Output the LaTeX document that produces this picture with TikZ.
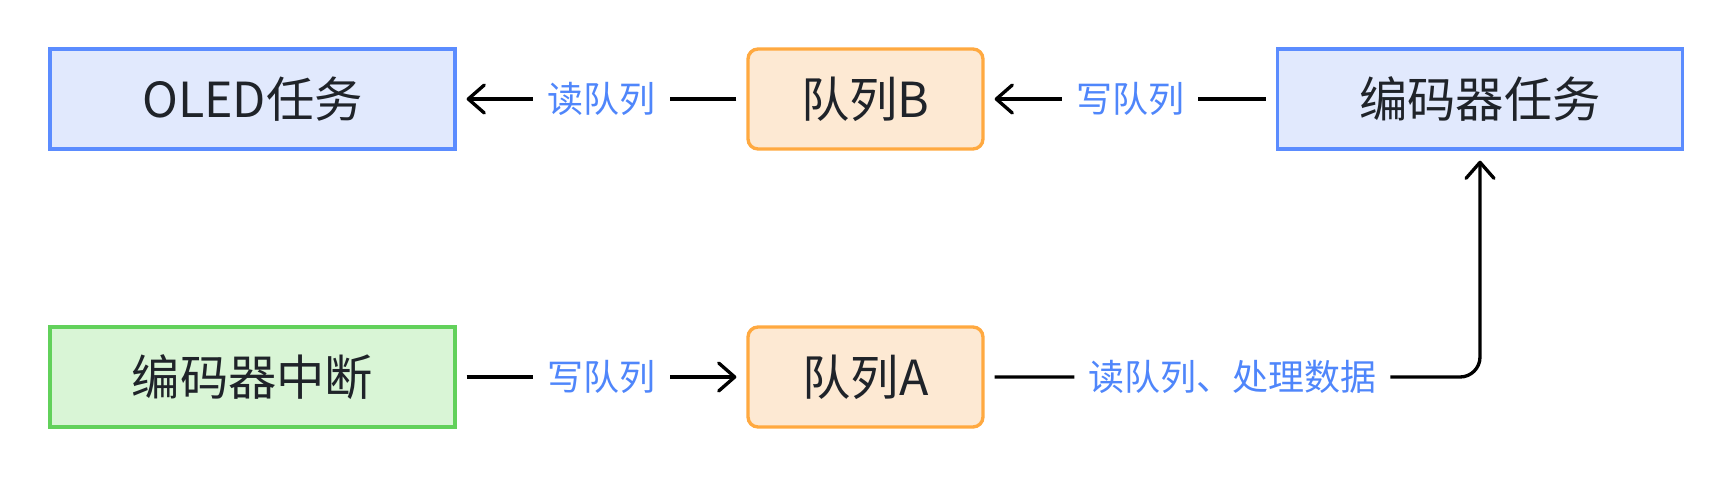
\documentclass[tikz,border=0pt]{standalone}
\usepackage{fontspec}
\setmainfont{Noto Sans CJK SC}
\usetikzlibrary{arrows.meta}

\definecolor{taskfill}{HTML}{E1E9FD}
\definecolor{taskline}{HTML}{5B8CFF}
\definecolor{queuefill}{HTML}{FDE9D3}
\definecolor{queueline}{HTML}{FFA940}
\definecolor{isrfill}{HTML}{D9F5D6}
\definecolor{isrline}{HTML}{62D15B}
\definecolor{textdark}{HTML}{1F2329}
\definecolor{lblblue}{HTML}{4F86FB}

\begin{document}
\begin{tikzpicture}[x=0.02cm,y=-0.02cm,
    box/.style={draw,line width=1.9pt,text=textdark,font=\fontsize{27.5pt}{30pt}\selectfont,
      minimum height=2cm,inner sep=0pt},
    taskbox/.style={box,fill=taskfill,draw=taskline,minimum width=8.1cm},
    isrbox/.style={box,fill=isrfill,draw=isrline,minimum width=8.1cm},
    queuebox/.style={box,fill=queuefill,draw=queueline,minimum width=4.7cm,rounded corners=0.2cm},
    flow/.style={line width=1.9pt,shorten >=0.2cm,shorten <=0.2cm,
      -{Straight Barb[length=0.32cm,width=0.56cm,line cap=round,line join=round]}},
    lbl/.style={fill=white,text=lblblue,font=\fontsize{20.5pt}{22pt}\selectfont,
      inner xsep=0.28cm,inner ysep=0.1cm}]
    \path[use as bounding box,fill=white] (0,0) rectangle (1734,478);
    % top row: tasks and queue B
    \node[taskbox] (oled) at (252.5,99) {OLED任务};
    \node[queuebox] (qb) at (865.5,99) {队列B};
    \node[taskbox] (enctask) at (1480,99) {编码器任务};
    % bottom row: interrupt and queue A
    \node[isrbox] (encisr) at (252.5,377) {编码器中断};
    \node[queuebox] (qa) at (865.5,377) {队列A};
    % data flow
    \draw[flow] (enctask) -- node[lbl]{写队列} (qb);
    \draw[flow] (qb) -- node[lbl]{读队列} (oled);
    \draw[flow] (encisr) -- node[lbl]{写队列} (qa);
    \draw[flow,rounded corners=0.4cm] (qa) -| node[lbl,pos=0.25]{读队列、处理数据} (enctask);
\end{tikzpicture}
\end{document}
